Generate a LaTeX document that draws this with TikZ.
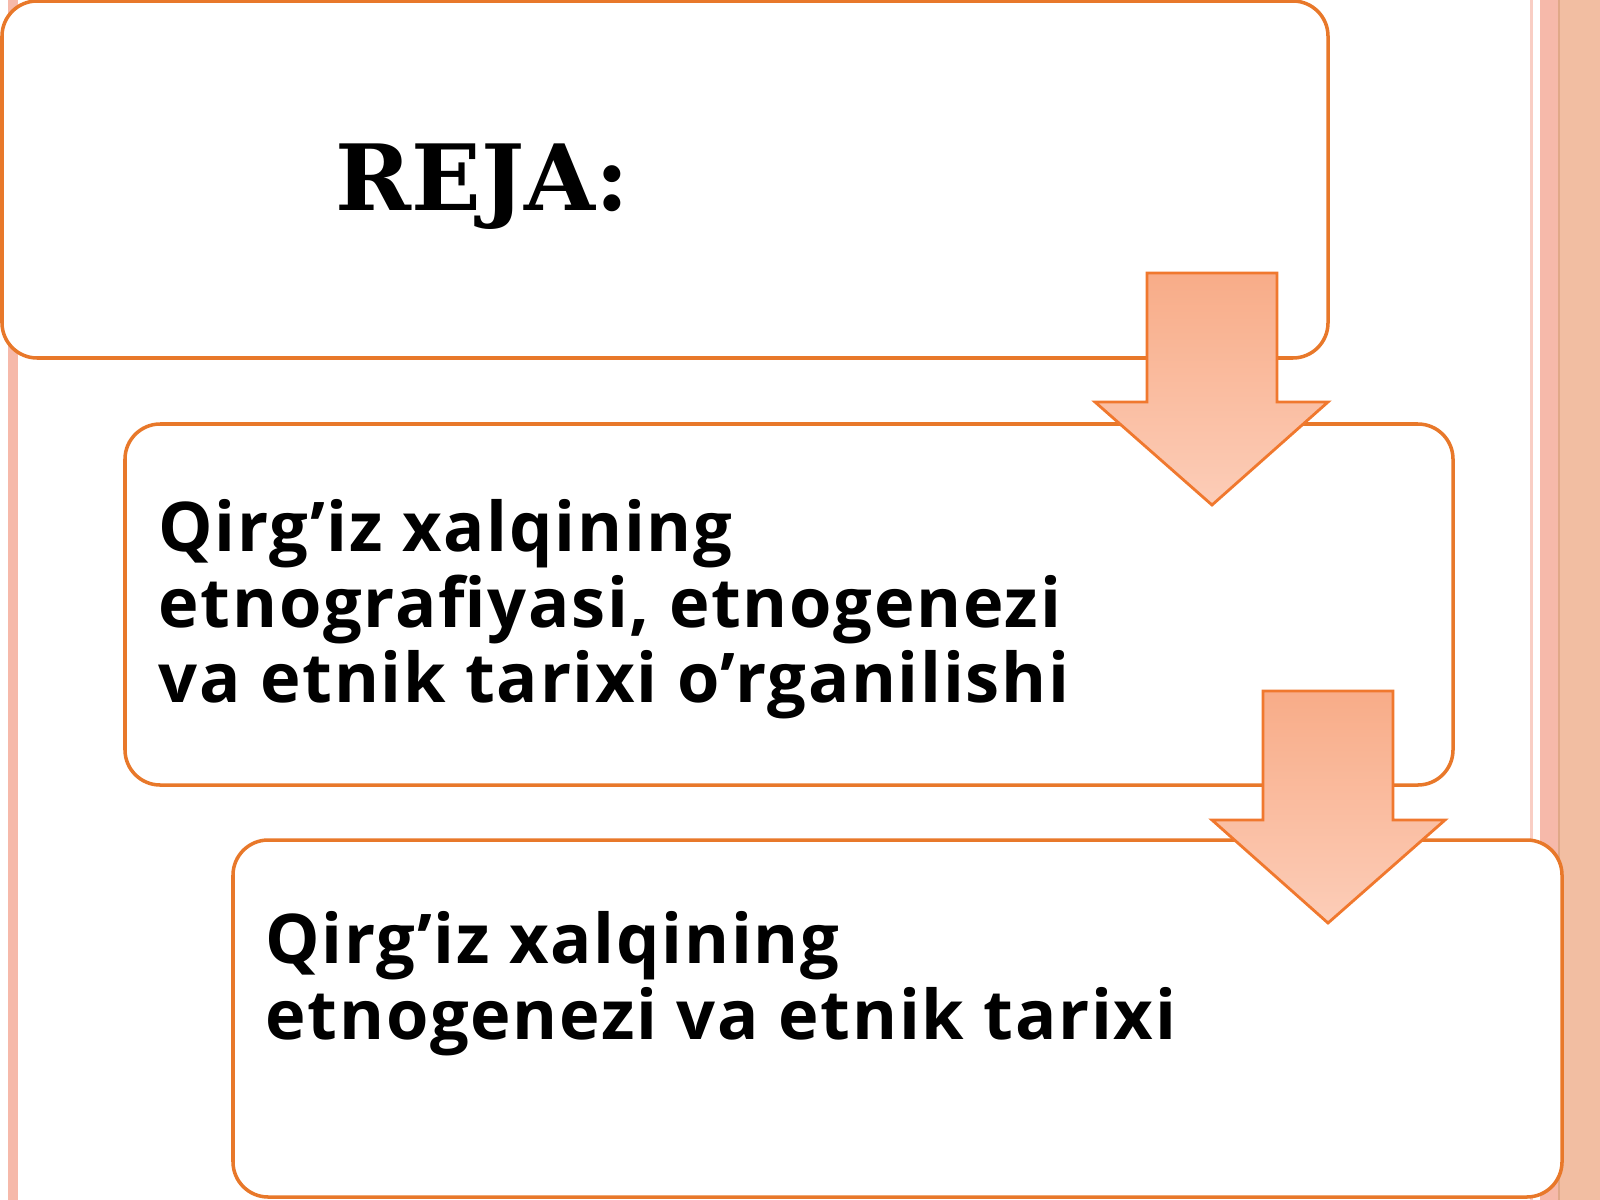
\documentclass[tikz,border=0pt]{standalone}
\usepackage{fontspec}
\setmainfont{Open Sans}
\newfontfamily\itemfont{Open Sans}[LetterSpace=2.5]
\newfontfamily\rejafont{DejaVu Serif}
\definecolor{boxline}{HTML}{E8782A}
\definecolor{arrline}{HTML}{F0782E}
\definecolor{arrdark}{HTML}{F8AC88}
\definecolor{arrlight}{HTML}{FCCDB8}
\definecolor{stripe}{HTML}{F2BEA2}
\definecolor{stripepink}{HTML}{F6B9AA}
\definecolor{stripeline}{HTML}{E0A888}

\begin{document}
\begin{tikzpicture}[x=0.01cm,y=-0.01cm,
    planbox/.style={draw=boxline, line width=1pt, fill=white, rounded corners=10pt},
    blockarrow/.style={draw=arrline, line width=0.8pt, top color=arrdark, bottom color=arrlight},
    itemtext/.style={anchor=north west, inner sep=0pt, align=left,
        font=\fontsize{19.5}{21.4}\selectfont\itemfont\bfseries}]
    \useasboundingbox (0,0) rectangle (1600,1200);

    % side stripes
    \fill[stripepink] (8,0) rectangle (18,1200);
    \fill[stripepink!70] (1530,0) rectangle (1533,1200);
    \fill[stripepink] (1540,0) rectangle (1558,1200);
    \fill[stripeline] (1558,0) rectangle (1560,1200);
    \fill[stripe] (1560,0) rectangle (1600,1200);

    \draw[planbox] (2,1) rectangle (1328,358);
    \draw[planbox] (125,424) rectangle (1453,785);
    \draw[planbox] (233,840) rectangle (1562,1197);

    \node[anchor=base west, inner sep=0pt, font=\fontsize{26}{30}\selectfont\rejafont\bfseries]
        (reja) at (335,210) {REJA:};
    \node[itemtext] (first) at (158,499)
        {Qirg’iz xalqining\\etnografiyasi, etnogenezi\\va etnik tarixi o’rganilishi};
    \node[itemtext] (second) at (265,911)
        {Qirg’iz xalqining\\etnogenezi va etnik tarixi};

    % arrows between the boxes
    \draw[blockarrow] (1147,273) -- (1277,273) -- (1277,402) -- (1328,402)
        -- (1212,505) -- (1095,402) -- (1147,402) -- cycle;
    \draw[blockarrow] (1263,691) -- (1393,691) -- (1393,820) -- (1445,820)
        -- (1328,923) -- (1212,820) -- (1263,820) -- cycle;

\end{tikzpicture}
\end{document}
